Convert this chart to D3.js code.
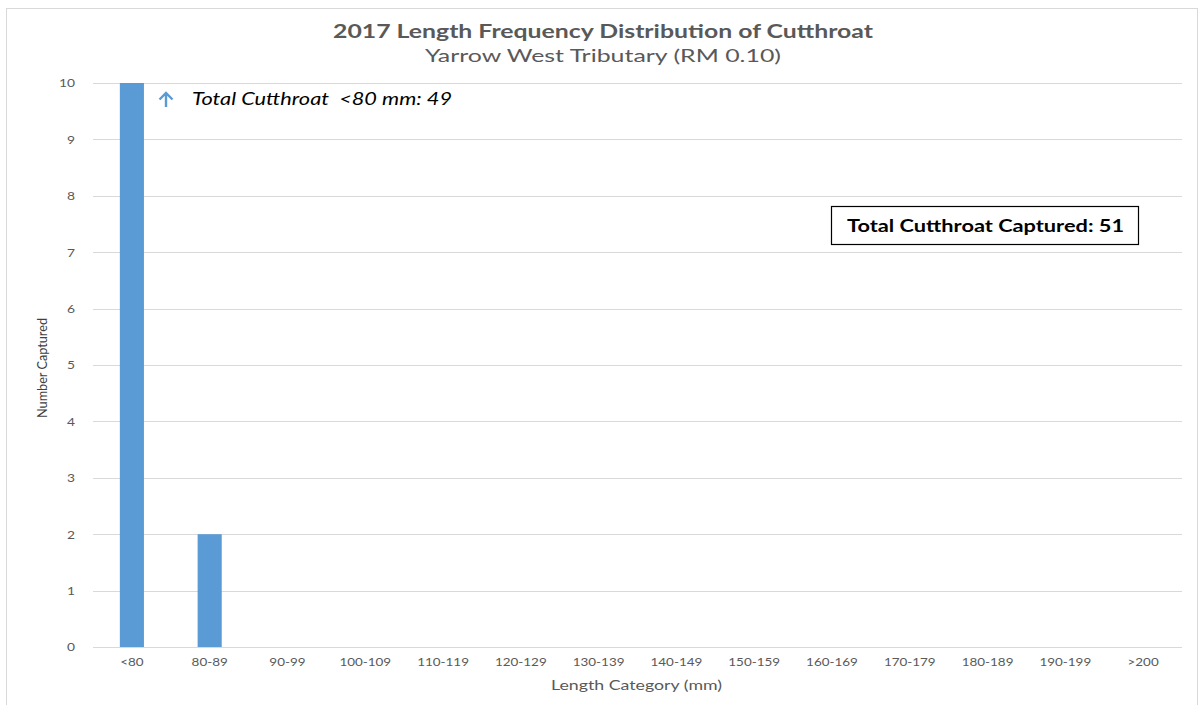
<!DOCTYPE html>
<html>
<head>
<meta charset="utf-8">
<script src="https://cdn.jsdelivr.net/npm/d3@7"></script>
<style>
  html, body { margin: 0; padding: 0; background: #fff; }
  svg { display: block; }
</style>
</head>
<body>
<svg id="chart" width="1199" height="705"></svg>
<script>
// Length categories (mm) and fish counts per category
const categories = ["<80", "80-89", "90-99", "100-109", "110-119", "120-129", "130-139",
  "140-149", "150-159", "160-169", "170-179", "180-189", "190-199", ">200"];
const counts = [49, 2, 0, 0, 0, 0, 0, 0, 0, 0, 0, 0, 0, 0];
const yTicks = [0, 1, 2, 3, 4, 5, 6, 7, 8, 9, 10];
const totalCaptured = 51;

const svg = d3.select("#chart");
const W = 1199, H = 705;
const margin = { left: 93, right: 17, top: 83, bottom: 58 };
const plotW = W - margin.left - margin.right;
const plotH = H - margin.top - margin.bottom;

const font = "Lato, 'Open Sans', sans-serif";
const grey = "#595959";

// stretch a text element horizontally to a given rendered width
function fit(sel, width) {
  sel.attr("textLength", width).attr("lengthAdjust", "spacingAndGlyphs");
  return sel;
}
// widen a text element by a factor of its natural width
function widen(sel, k) {
  sel.each(function () {
    const w = this.getComputedTextLength();
    d3.select(this).attr("textLength", w * k).attr("lengthAdjust", "spacingAndGlyphs");
  });
  return sel;
}

// outer chart frame
svg.append("rect")
  .attr("x", 6.5).attr("y", 8.5)
  .attr("width", 1191).attr("height", 710)
  .attr("fill", "none").attr("stroke", "#d9d9d9").attr("stroke-width", 1);

const x = d3.scaleBand().domain(categories).range([0, plotW]).paddingInner(0.69).paddingOuter(0.345);
const y = d3.scaleLinear().domain([0, 10]).range([plotH, 0]);

const g = svg.append("g").attr("transform", `translate(${margin.left},${margin.top})`);

// horizontal gridlines
g.append("g").selectAll("line").data(yTicks).join("line")
  .attr("x1", 0).attr("x2", plotW)
  .attr("y1", d => Math.round(y(d)) + 0.5).attr("y2", d => Math.round(y(d)) + 0.5)
  .attr("stroke", "#d9d9d9").attr("stroke-width", 1);

// y tick labels
const yAxis = d3.axisLeft(y).tickValues(yTicks).tickSize(0).tickPadding(18);
const ya = g.append("g").call(yAxis);
ya.select(".domain").remove();
ya.selectAll("text").attr("font-family", font).attr("font-size", 12).attr("fill", grey);
widen(ya.selectAll("text"), 1.15);

// x tick labels
const xAxis = d3.axisBottom(x).tickSize(0).tickPadding(10);
const xa = g.append("g").attr("transform", `translate(0,${plotH})`).call(xAxis);
xa.select(".domain").remove();
xa.selectAll("text").attr("font-family", font).attr("font-size", 12).attr("fill", grey);
widen(xa.selectAll("text"), 1.12);

// bars, clipped to the plot area (the <80 bar runs off the top)
svg.append("defs").append("clipPath").attr("id", "plotClip")
  .append("rect").attr("x", 0).attr("y", 0).attr("width", plotW).attr("height", plotH);

const yc = y.copy().clamp(true);
g.append("g").attr("clip-path", "url(#plotClip)")
  .selectAll("rect").data(categories.map((c, i) => ({ c, v: counts[i] })).filter(d => d.v > 0))
  .join("rect")
  .attr("x", d => x(d.c)).attr("width", x.bandwidth())
  .attr("y", d => yc(d.v)).attr("height", d => plotH - yc(d.v))
  .attr("fill", "#5b9bd5");

// titles
fit(svg.append("text").attr("x", 603).attr("y", 38).attr("text-anchor", "middle")
  .attr("font-family", font).attr("font-weight", "bold").attr("font-size", 18)
  .attr("fill", grey).text("2017 Length Frequency Distribution of Cutthroat"), 540);
fit(svg.append("text").attr("x", 603).attr("y", 62).attr("text-anchor", "middle")
  .attr("font-family", font).attr("font-size", 18)
  .attr("fill", grey).text("Yarrow West Tributary (RM 0.10)"), 356);

// axis titles
fit(svg.append("text").attr("transform", "translate(47,368) rotate(-90)")
  .attr("text-anchor", "middle").attr("font-family", font).attr("font-size", 12.5)
  .attr("fill", "#404040").text("Number Captured"), 100);
fit(svg.append("text").attr("x", 636.5).attr("y", 690).attr("text-anchor", "middle")
  .attr("font-family", font).attr("font-size", 12.5)
  .attr("fill", grey).text("Length Category (mm)"), 171);

// annotation for the off-scale <80 bar
const ann = svg.append("g");
ann.append("path")
  .attr("d", "M166,107 L166,93 M159.5,99.5 L166,93 L172.5,99.5")
  .attr("fill", "none").attr("stroke", "#5b9bd5").attr("stroke-width", 2.4)
  .attr("stroke-linecap", "butt").attr("stroke-linejoin", "miter");
fit(ann.append("text").attr("x", 192).attr("y", 105)
  .attr("font-family", font).attr("font-style", "italic").attr("font-size", 17)
  .attr("fill", "#000").attr("xml:space", "preserve")
  .text(`Total Cutthroat  <80 mm: ${counts[0]}`), 260);

// total box
svg.append("rect").attr("x", 831.5).attr("y", 206.5).attr("width", 307).attr("height", 38)
  .attr("fill", "#fff").attr("stroke", "#000").attr("stroke-width", 1.2);
fit(svg.append("text").attr("x", 847).attr("y", 232)
  .attr("font-family", font).attr("font-weight", "bold").attr("font-size", 16.5)
  .attr("fill", "#000").text(`Total Cutthroat Captured: ${totalCaptured}`), 277);
</script>
</body>
</html>
